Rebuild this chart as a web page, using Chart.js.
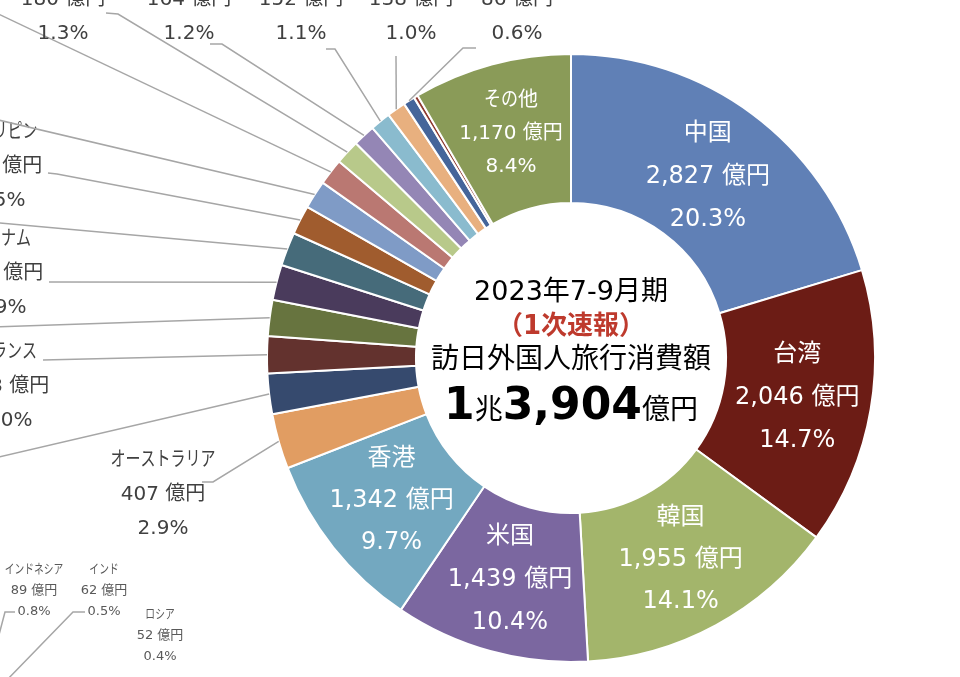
<!DOCTYPE html>
<html lang="ja">
<head>
<meta charset="utf-8">
<title>訪日外国人旅行消費額 2023年7-9月期</title>
<script src="https://cdn.jsdelivr.net/npm/chart.js@4.4.1/dist/chart.umd.min.js"></script>
<style>
  html, body { margin: 0; padding: 0; background: #fff; overflow: hidden; }
  canvas { display: block; }
</style>
</head>
<body>
<canvas id="spendChart" width="960" height="677"></canvas>
<script>
// 2023年7-9月期 訪日外国人旅行消費額（1次速報） — doughnut

const countries = ['中国', '台湾', '韓国', '米国', '香港', 'オーストラリア', 'シンガポール', 'フランス', 'タイ',
                   'ベトナム', '英国', 'フィリピン', 'マレーシア', 'カナダ', 'ドイツ', 'イタリア', 'スペイン',
                   'インドネシア', 'インド', 'ロシア', 'その他'];
const amounts   = [2827, 2046, 1955, 1439, 1342, 407, 300, 273, 265, 262, 248, 215, 210, 195, 180, 164, 152, 138, 86, 30, 1170];
const shares    = [20.3, 14.7, 14.1, 10.4, 9.7, 2.9, 2.2, 2.0, 1.9, 1.9, 1.8, 1.5, 1.5, 1.4, 1.3, 1.2, 1.1, 1.0, 0.6, 0.2, 8.4];

// labels of the neighbouring chart, visible at the lower left
const sideNames   = ['インドネシア', 'インド', 'ロシア'];
const sideAmounts = [89, 62, 52];
const sideShares  = [0.8, 0.5, 0.4];

const sliceColors = ['#6080B6', '#6C1C15', '#A3B56B', '#7B67A0', '#73A8C0', '#E19D62', '#364A6E', '#63322E', '#67743F',
                     '#4A3B5C', '#466B7A', '#A05C2E', '#7F9BC6', '#BA7872', '#B8C98A', '#9486B5', '#8ABBCE',
                     '#E8B07F', '#45659A', '#8E3A30', '#8A9B58'];

const FONT  = '"DejaVu Sans", "Noto Sans CJK JP", sans-serif';
const LEAD  = '#A6A6A6';
const GRAYT = '#404040';

// labels drawn on the ring
const inside = {
    0:  { size: 24, gap: 43, dy: 3 },
    1:  { size: 24, gap: 43, dy: 1 },
    2:  { size: 24, gap: 42, dy: 0 },
    3:  { size: 24, gap: 43, dy: 1 },
    4:  { size: 24, gap: 42, dy: 0 },
    20: { size: 20, gap: 33, dy: -3 },
};

// labels outside: text centre + leader points (elbow first, label end last)
const outside = {
    5:  { x: 163, y: 495, pts: [[213, 482], [202, 482]] },
    6:  { x: -70, y: 470, pts: [[-10, 459]] },
    7:  { x: 7,   y: 387, pts: [[43, 360]] },
    8:  { x: -70, y: 330, pts: [[-10, 327]] },
    9:  { x: 1,   y: 274, pts: [[49, 282]] },
    10: { x: -70, y: 215, pts: [[-10, 222]] },
    11: { x: 0,   y: 167, pts: [[57, 174], [48, 173]] },
    12: { x: -70, y: 110, pts: [[-10, 118]] },
    13: { x: -70, y: 0,   pts: [[-10, 10]] },
    14: { x: 63,  y: 0,   pts: [[118, 14], [106, 13]] },
    15: { x: 189, y: 0,   pts: [[222, 44], [210, 44]] },
    16: { x: 301, y: 0,   pts: [[335, 49], [326, 49]] },
    17: { x: 411, y: 0,   pts: [[396, 56]] },
    18: { x: 517, y: 0,   pts: [[463, 48], [476, 48]] },
};

const side = [
    { x: 34,  y: 591, pts: [[-5, 650], [5, 612], [15, 612]] },
    { x: 104, y: 591, pts: [[5, 682], [73, 612], [85, 612]] },
    { x: 160, y: 636, pts: [] },
];

// katakana / hiragana are narrow in the original font
function runsOf(s) {
    const out = [];
    for (const ch of s) {
        const k = /[\u30A0-\u30FF]/.test(ch) ? 0.75 : /[\u3040-\u309F]/.test(ch) ? 0.85 : 1;
        const last = out[out.length - 1];
        if (last && last.k === k) last.t += ch; else out.push({ t: ch, k });
    }
    return out;
}

function fillMixed(ctx, s, x, y) {
    const rs = runsOf(s);
    let w = 0;
    rs.forEach(r => { r.w = ctx.measureText(r.t).width * r.k; w += r.w; });
    let px = x - w / 2;
    ctx.textAlign = 'left';
    rs.forEach(r => {
        ctx.save();
        ctx.translate(px, y);
        ctx.scale(r.k, 1);
        ctx.fillText(r.t, 0, 0);
        ctx.restore();
        px += r.w;
    });
}

function labelLines(name, amt, pct) {
    return [name, amt.toLocaleString('en-US') + ' 億円', pct.toFixed(1) + '%'];
}

const sliceLabels = {
    id: 'sliceLabels',
    afterDatasetsDraw(chart) {
        const ctx = chart.ctx;
        const arcs = chart.getDatasetMeta(0).data;
        ctx.save();
        ctx.textBaseline = 'middle';

        arcs.forEach((arc, i) => {
            const p = arc.getProps(['x', 'y', 'startAngle', 'endAngle', 'innerRadius', 'outerRadius'], true);
            const mid = (p.startAngle + p.endAngle) / 2;
            const lines = labelLines(countries[i], amounts[i], shares[i]);

            if (inside[i]) {
                const s = inside[i];
                const r = (p.innerRadius + p.outerRadius) / 2;
                const cx = p.x + Math.cos(mid) * r;
                const cy = p.y + Math.sin(mid) * r + s.dy;
                ctx.fillStyle = '#fff';
                ctx.font = s.size + 'px ' + FONT;
                lines.forEach((t, k) => fillMixed(ctx, t, cx, cy + (k - 1) * s.gap));
            } else if (outside[i]) {
                const o = outside[i];
                ctx.strokeStyle = LEAD;
                ctx.lineWidth = 1.5;
                ctx.beginPath();
                ctx.moveTo(p.x + Math.cos(mid) * p.outerRadius, p.y + Math.sin(mid) * p.outerRadius);
                o.pts.forEach(q => ctx.lineTo(q[0], q[1]));
                ctx.stroke();
                ctx.fillStyle = GRAYT;
                ctx.font = '20px ' + FONT;
                lines.forEach((t, k) => fillMixed(ctx, t, o.x, o.y + (k - 1) * 34));
            }
        });

        // ── labels of the neighbouring chart ──
        side.forEach((s, i) => {
            if (s.pts.length) {
                ctx.strokeStyle = LEAD;
                ctx.lineWidth = 1.5;
                ctx.beginPath();
                s.pts.forEach((q, k) => k ? ctx.lineTo(q[0], q[1]) : ctx.moveTo(q[0], q[1]));
                ctx.stroke();
            }
            ctx.fillStyle = '#595959';
            ctx.font = '13px ' + FONT;
            labelLines(sideNames[i], sideAmounts[i], sideShares[i])
                .forEach((t, k) => fillMixed(ctx, t, s.x, s.y + (k - 1) * 21));
        });

        // ── centre text ──
        const c = arcs[0];
        const total = amounts.reduce((a, b) => a + b, 0);
        const cx = c.x, cy = c.y;
        ctx.fillStyle = '#000';
        ctx.font = '27px ' + FONT;
        fillMixed(ctx, '2023年7-9月期', cx, cy - 65);
        ctx.fillStyle = '#BE3A2D';
        ctx.font = 'bold 26px ' + FONT;
        fillMixed(ctx, '（1次速報）', cx, cy - 31);
        ctx.fillStyle = '#000';
        ctx.font = '28px ' + FONT;
        fillMixed(ctx, '訪日外国人旅行消費額', cx, cy + 3);

        const big = 'bold 44px "DejaVu Sans", sans-serif';
        const small = '28px ' + FONT;
        const parts = [
            [String(Math.floor(total / 10000)), big],
            ['兆', small],
            [(total % 10000).toLocaleString('en-US'), big],
            ['億円', small],
        ];
        let w = 0;
        parts.forEach(pt => { ctx.font = pt[1]; pt.w = ctx.measureText(pt[0]).width; w += pt.w; });
        let px = cx - w / 2;
        ctx.textAlign = 'left';
        ctx.textBaseline = 'alphabetic';
        parts.forEach(pt => { ctx.font = pt[1]; ctx.fillText(pt[0], px, cy + 61); px += pt.w; });

        ctx.restore();
    }
};

new Chart(document.getElementById('spendChart'), {
    type: 'doughnut',
    data: {
        labels: countries,
        datasets: [{
            data:            amounts,
            backgroundColor: sliceColors,
            borderColor:     '#fff',
            borderWidth:     2,
        }]
    },
    options: {
        responsive: false,
        animation:  false,
        cutout:     '51%',
        layout: { padding: { left: 266, right: 84, top: 53, bottom: 14 } },
        plugins: {
            legend:  { display: false },
            tooltip: { enabled: false }
        }
    },
    plugins: [sliceLabels]
});
</script>
</body>
</html>
